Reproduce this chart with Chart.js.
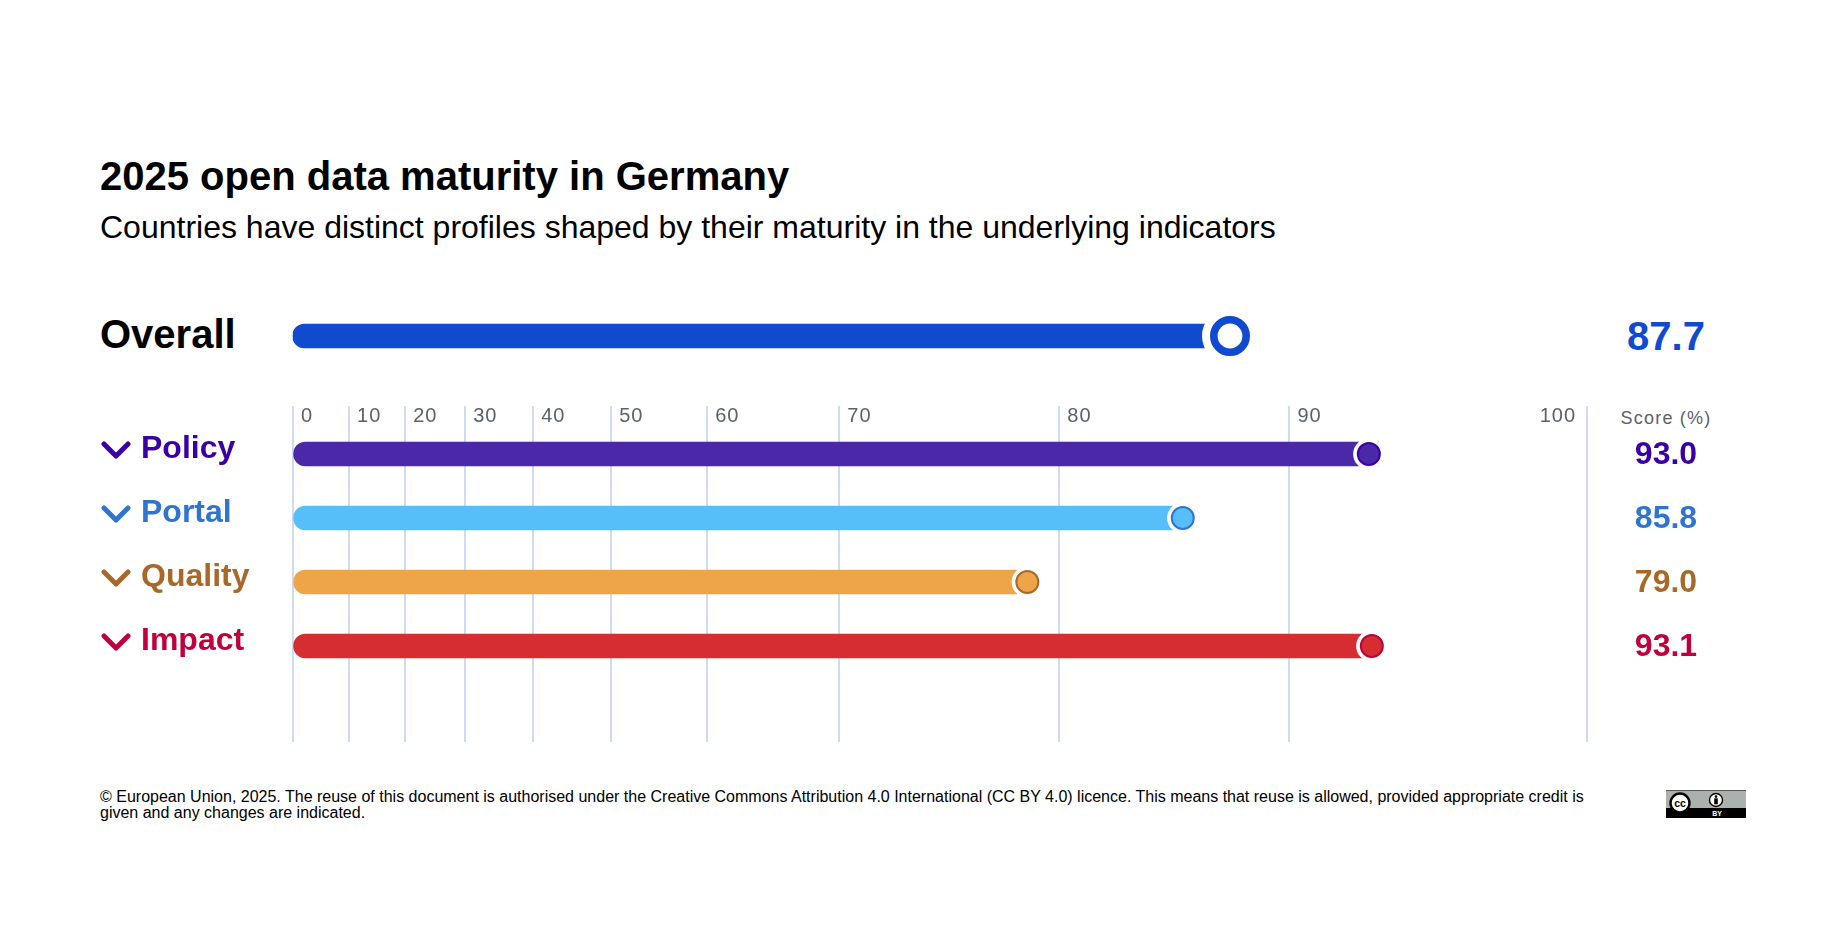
<!DOCTYPE html>
<html>
<head>
<meta charset="utf-8">
<title>2025 open data maturity in Germany</title>
<script src="https://cdn.jsdelivr.net/npm/chart.js@4"></script>
<style>
  body { margin: 0; background: #fff; font-family: "Liberation Sans", Arial, sans-serif; }
  #page { position: relative; width: 1846px; height: 938px; overflow: hidden; }
  #page > * { position: absolute; }
  canvas { left: 0; }
  .name { left: 141px; font-size: 32px; line-height: 40px; font-weight: bold; white-space: nowrap; }
  .score { left: 1566px; width: 200px; text-align: center; font-weight: bold; white-space: nowrap; }
</style>
</head>
<body>
<div id="page">
  <div style="left:100px;top:152px;font-size:40px;line-height:48px;font-weight:bold;white-space:nowrap">2025 open data maturity in Germany</div>
  <div style="left:100px;top:207px;font-size:32px;line-height:40px;white-space:nowrap">Countries have distinct profiles shaped by their maturity in the underlying indicators</div>
  <div style="left:100px;top:310px;font-size:40px;line-height:48px;font-weight:bold">Overall</div>
  <div id="overallScore" class="score" style="top:312px;font-size:40px;line-height:48px;color:#0f4ad0"></div>
  <div class="score" style="top:405px;font-size:18px;line-height:26px;font-weight:normal;letter-spacing:1.2px;color:#5c606c">Score (%)</div>

  <canvas id="overallChart" width="1846" height="60" style="top:306px"></canvas>
  <canvas id="indicatorChart" width="1846" height="350" style="top:400px"></canvas>

  <div style="left:100px;top:789px;width:1500px;font-size:16px;line-height:16px">&copy; European Union, 2025. The reuse of this document is authorised under the Creative Commons Attribution 4.0 International (CC BY 4.0) licence. This means that reuse is allowed, provided appropriate credit is given and any changes are indicated.</div>

  <!-- cc by badge -->
  <svg style="left:1666px;top:790px" width="80" height="28" viewBox="0 0 80 28">
    <rect width="80" height="28" fill="#aab2ab"/>
    <rect width="80" height="1" fill="#555"/>
    <rect y="18" width="80" height="10" fill="#000"/>
    <circle cx="14" cy="13" r="9.5" fill="#fff" stroke="#000" stroke-width="2.4"/>
    <text x="14" y="16.5" text-anchor="middle" font-family="Liberation Sans" font-weight="bold" font-size="10.5">cc</text>
    <circle cx="50" cy="10" r="6.5" fill="#fff" stroke="#000" stroke-width="1.4"/>
    <circle cx="50" cy="6.6" r="1.3" fill="#000"/>
    <rect x="48.2" y="8.3" width="3.6" height="6" fill="#000"/>
    <text x="51" y="26" text-anchor="middle" font-family="Liberation Sans" font-weight="bold" font-size="7" fill="#fff">BY</text>
  </svg>
</div>

<script>
var indicators = ["Policy", "Portal", "Quality", "Impact"];
var scores = [93.0, 85.8, 79.0, 93.1];
var overallLabel = ["Overall"];
var overallScores = [87.7];
var tickValues = [0, 10, 20, 30, 40, 50, 60, 70, 80, 90, 100];
// the axis is not linear: width of each step between two ticks, relative
var tickSteps = [56, 56, 60, 68, 78, 96, 132, 220, 230, 298];

var barColors = ["#4b28a8", "#56bef8", "#eea548", "#d62d33"];
var textColors = ["#3a00a5", "#2f74d0", "#a8682a", "#c0003c"];
var overallColor = "#0f4ad0";
var gridColor = "#cfdaf5";

// linear scale stretched piece by piece between the ticks
class SteppedScale extends Chart.LinearScale {
    static id = "stepped";

    getPixelForValue(value) {
        if (value === null || value === undefined) return NaN;
        var total = tickSteps.reduce(function (a, b) { return a + b; }, 0);
        var done = 0;
        for (var i = 0; i < tickSteps.length; i++) {
            if (value <= tickValues[i + 1] || i === tickSteps.length - 1) {
                var part = (value - tickValues[i]) / (tickValues[i + 1] - tickValues[i]);
                return this.getPixelForDecimal((done + part * tickSteps[i]) / total);
            }
            done += tickSteps[i];
        }
    }

    // labels sit right of their grid line, the last one left of it
    _computeLabelItems(chartArea) {
        var items = super._computeLabelItems(chartArea);
        items.forEach(function (item, i) {
            if (i === items.length - 1) {
                item.options.textAlign = "right";
                item.options.translation[0] -= 11;
            } else {
                item.options.translation[0] += 8.5;
            }
        });
        return items;
    }

    drawLabels(chartArea) {
        this.ctx.save();
        this.ctx.letterSpacing = "1px";
        super.drawLabels(chartArea);
        this.ctx.restore();
    }
}
Chart.register(SteppedScale);

// end dots: sit on the bar end, pulled back a bit so they stay inside the value
var endDots = {
    id: "endDots",
    afterDatasetsDraw: function (chart, args, opts) {
        var ctx = chart.ctx;
        chart.getDatasetMeta(0).data.forEach(function (bar, i) {
            var x = bar.x - opts.inset;
            ctx.save();
            ctx.beginPath();
            ctx.arc(x, bar.y, opts.halo, 0, Math.PI * 2);
            ctx.fillStyle = "#fff";
            ctx.fill();
            ctx.beginPath();
            ctx.arc(x, bar.y, opts.radius, 0, Math.PI * 2);
            ctx.fillStyle = opts.fill[i];
            ctx.fill();
            ctx.lineWidth = opts.lineWidth;
            ctx.strokeStyle = opts.stroke[i];
            ctx.stroke();
            ctx.restore();
        });
    }
};

function barChart(id, labels, values, colors, padding, xAxis, dots) {
    return new Chart(document.getElementById(id), {
        type: "bar",
        data: {
            labels: labels,
            datasets: [{
                data: values,
                backgroundColor: colors,
                barThickness: 24,
                borderSkipped: false,
                borderRadius: { topLeft: 12, bottomLeft: 12, topRight: 0, bottomRight: 0 }
            }]
        },
        plugins: [endDots],
        options: {
            indexAxis: "y",
            responsive: false,
            animation: false,
            events: [],
            layout: { padding: padding },
            plugins: { legend: { display: false }, tooltip: { enabled: false }, endDots: dots },
            scales: {
                x: xAxis,
                y: { display: false }
            }
        }
    });
}

barChart("overallChart", overallLabel, overallScores, [overallColor],
    { left: 292.6, right: 259, top: 0, bottom: 0 },
    { type: "stepped", display: false, min: 0, max: 100 },
    { inset: 6, halo: 28, radius: 16.2, lineWidth: 7.6, fill: ["#fff"], stroke: [overallColor] });

barChart("indicatorChart", indicators.concat([""]), scores, barColors,
    { left: 292.6, right: 259, top: 6, bottom: 8 },
    {
        type: "stepped",
        position: "top",
        min: 0,
        max: 100,
        afterFit: function (scale) { scale.height = 16; },
        grid: { color: gridColor, tickColor: gridColor, lineWidth: 2, tickLength: 16 },
        border: { display: false },
        ticks: {
            stepSize: 10,
            autoSkip: false,
            minRotation: 0,
            maxRotation: 0,
            align: "start",
            padding: -22,
            color: "#5c606c",
            font: { family: "Liberation Sans", size: 20 }
        }
    },
    { inset: 9.5, halo: 15.7, radius: 11, lineWidth: 2, fill: barColors, stroke: textColors });

// texts beside the bars
var page = document.getElementById("page");
document.getElementById("overallScore").textContent = overallScores[0].toFixed(1);
indicators.forEach(function (name, i) {
    var rowY = 454 + i * 64;
    var label = document.createElement("div");
    label.className = "name";
    label.style.top = (rowY - 27.4) + "px";
    label.style.color = textColors[i];
    label.textContent = name;
    page.appendChild(label);

    var chevron = document.createElementNS("http://www.w3.org/2000/svg", "svg");
    chevron.setAttribute("width", "30");
    chevron.setAttribute("height", "20");
    chevron.style.left = "101px";
    chevron.style.top = (rowY - 13) + "px";
    chevron.innerHTML = '<path d="M3 3 L15 15 L27 3" fill="none" stroke="' + textColors[i] + '" stroke-width="5" stroke-linecap="round" stroke-linejoin="round"/>';
    page.appendChild(chevron);

    var score = document.createElement("div");
    score.className = "score";
    score.style.top = (rowY - 20.7) + "px";
    score.style.fontSize = "32px";
    score.style.lineHeight = "40px";
    score.style.color = textColors[i];
    score.textContent = scores[i].toFixed(1);
    page.appendChild(score);
});
</script>
</body>
</html>
